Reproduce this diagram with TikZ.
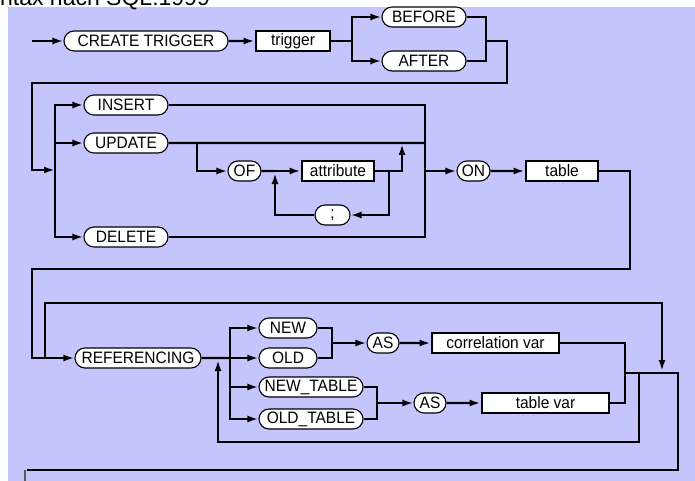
\documentclass[tikz,border=0pt]{standalone}
\usepackage{fontspec}
\setmainfont{Liberation Sans}
\newfontfamily\diagfont[FakeStretch=0.94]{Liberation Sans}
\usetikzlibrary{arrows.meta,shapes.misc}
\definecolor{bgblue}{RGB}{197,197,253}

\begin{document}
\begin{tikzpicture}[x=1pt,y=-1pt,>={Latex[length=11pt,width=7pt]},line width=2.3pt,
  term/.style={draw,rounded rectangle,line width=1.1pt,fill=white,minimum height=20pt,inner xsep=2pt,inner ysep=0pt,font=\diagfont\fontsize{16.5}{18}\selectfont},
  nterm/.style={draw,rectangle,line width=2.8pt,fill=white,minimum height=20pt,inner sep=0pt,font=\diagfont\fontsize{16.5}{18}\selectfont}]
\useasboundingbox (0,0) rectangle (695,481);
\clip (0,0) rectangle (695,481);
\fill[bgblue] (8,7) rectangle (695,481);
\node[anchor=base west,inner sep=0pt,font=\fontsize{23}{26}\selectfont] (title) at (-1,6) {ntax nach SQL:1999};
% first row
\node[term,minimum width=168pt] (create) at (146,41) {CREATE TRIGGER};
\node[nterm,minimum width=74pt] (trigger) at (293,41) {trigger};
\node[term,minimum width=88pt] (before) at (424,17) {BEFORE};
\node[term,minimum width=88pt] (after) at (424,61) {AFTER};
% events
\node[term,minimum width=88pt] (insert) at (126,105) {INSERT};
\node[term,minimum width=88pt] (update) at (126,143) {UPDATE};
\node[term,minimum width=88pt] (delete) at (126,237) {DELETE};
\node[term,minimum width=37pt] (of) at (244.5,171) {OF};
\node[nterm,minimum width=72pt] (attribute) at (338,171) {attribute};
\node[term,minimum width=39pt] (semi) at (332.5,215) {;};
\node[term,minimum width=37pt] (on) at (473.5,171) {ON};
\node[nterm,minimum width=72pt] (table) at (562,171) {table};
% referencing
\node[term,minimum width=130pt] (referencing) at (138,358) {REFERENCING};
\node[term,minimum width=62pt] (new) at (288,328) {NEW};
\node[term,minimum width=62pt] (old) at (288,358) {OLD};
\node[term,minimum width=108pt] (newtable) at (311,387) {NEW\_TABLE};
\node[term,minimum width=108pt] (oldtable) at (311,419) {OLD\_TABLE};
\node[term,minimum width=36pt] (as1) at (383,343) {AS};
\node[nterm,minimum width=127pt] (corr) at (495.5,343) {correlation var};
\node[term,minimum width=36pt] (as2) at (430,403) {AS};
\node[nterm,minimum width=127pt] (tvar) at (545.5,403) {table var};
% junctions
\coordinate (in) at (32,41);
\coordinate (s1) at (352,41);
\coordinate (m1) at (486,41);
\coordinate (r1) at (507,83);
\coordinate (l1) at (32,83);
\coordinate (s2) at (55,170);
\coordinate (m2) at (425,171);
\coordinate (b1) at (197,143);
\coordinate (j1) at (275,171);
\coordinate (j2) at (389,171);
\coordinate (up1) at (402,144);
\coordinate (r2) at (630,269);
\coordinate (l2) at (32,269);
\coordinate (b2) at (45,358);
\coordinate (t1) at (662,303);
\coordinate (d1) at (662,371);
\coordinate (s3) at (230,358);
\coordinate (m3) at (332,343);
\coordinate (m4) at (377,403);
\coordinate (m5) at (625,373);
\coordinate (x1) at (678,470);
\coordinate (endl) at (27,470);
\coordinate (lp1) at (639,373);
\coordinate (lp2) at (218,442);
\coordinate (lp3) at (218,360);
\coordinate (cut1) at (25,470);
\coordinate (cut2) at (25,481);
% connectors
\draw[->] (in) -- (create);
\draw[->] (create) -- (trigger);
\draw (trigger) -- (s1);
\draw[->] (s1) |- (before);
\draw[->] (s1) |- (after);
\draw (before) -| (m1);
\draw (after) -| (m1);
\draw[->] (m1) -| (r1) -- (l1) |- (s2);
\draw[->] (s2) |- (insert);
\draw[->] (s2) |- (update);
\draw[->] (s2) |- (delete);
\draw (insert) -| (m2);
\draw (delete) -| (m2);
\draw (update) -- (update.east -| m2);
\draw[->] (b1) |- (of);
\draw (of) -- (j1);
\draw[->] (j1) -- (attribute);
\draw[->] (attribute) -| (up1);
\draw[->] (j2) |- (semi);
\draw[->,shorten >=2pt] (semi) -| (j1);
\draw[->] (m2) -- (on);
\draw[->] (on) -- (table);
\draw[->] (table) -| (r2) -- (l2) |- (referencing);
\draw[->] (b2) |- (t1) -- (d1);
\draw (referencing) -- (s3);
\draw[->] (s3) |- (new);
\draw[->] (s3) -- (old);
\draw[->] (s3) |- (newtable);
\draw[->] (s3) |- (oldtable);
\draw (new) -| (m3);
\draw (old) -| (m3);
\draw[->] (m3) -- (as1);
\draw[->] (as1) -- (corr);
\draw (newtable) -| (m4);
\draw (oldtable) -| (m4);
\draw[->] (m4) -- (as2);
\draw[->] (as2) -- (tvar);
\draw (corr) -| (m5);
\draw (tvar) -| (m5);
\draw (m5) -| (x1) -- (endl);
\draw[->] (lp1) |- (lp2) -- (lp3);
\draw[gray!70!black,line width=1.5pt] (cut1) -- (cut2);
\end{tikzpicture}
\end{document}
